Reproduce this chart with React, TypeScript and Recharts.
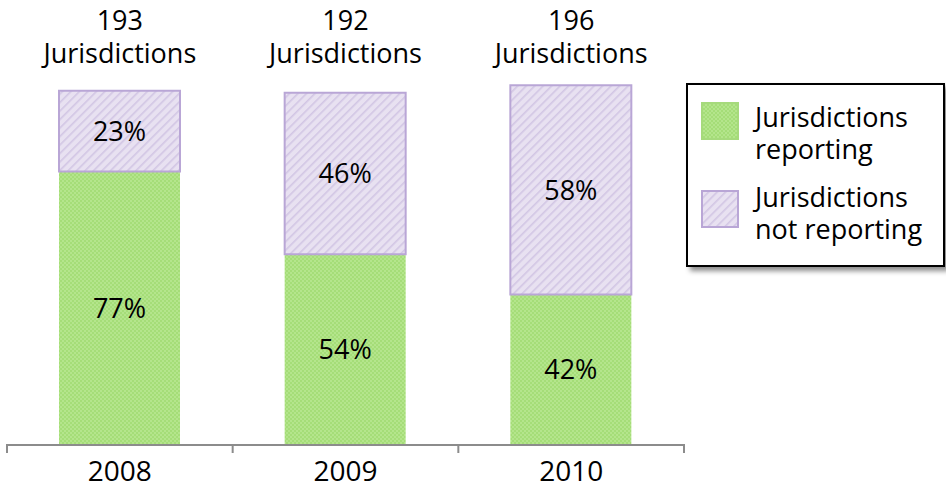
import React from 'react';
import { BarChart, Bar, XAxis, YAxis, LabelList } from 'recharts';

const years = ['2008', '2009', '2010'];
const totals = [193, 192, 196];
const reportingPct = [77, 54, 42];
const notReportingPct = [23, 46, 58];
// jurisdiction counts (bar heights follow the totals)
const reporting = [149, 104, 82];
const notReporting = [44, 88, 114];

const data = years.map((year, i) => ({
  year,
  total: totals[i],
  reporting: reporting[i],
  notReporting: notReporting[i],
  reportingPct: reportingPct[i],
  notReportingPct: notReportingPct[i],
}));

const FONT = '"Open Sans", sans-serif';
const CHART_W = 946;
const MARGIN = { top: 0, right: 262, bottom: 0, left: 7 };
const BAND = (CHART_W - MARGIN.left - MARGIN.right) / years.length;
const AXIS_GRAY = '#8c8c8c';

// category labels plus tick marks on the band boundaries
const BottomTick = (props: any) => {
  const { x, y, payload, index } = props;
  const axisY = y - 2;
  const left = x - BAND / 2;
  const right = x + BAND / 2;
  return (
    <g>
      <line x1={left} y1={axisY - 1} x2={left} y2={axisY + 8} stroke={AXIS_GRAY} strokeWidth={2} />
      {index === years.length - 1 && (
        <line x1={right} y1={axisY - 1} x2={right} y2={axisY + 8} stroke={AXIS_GRAY} strokeWidth={2} />
      )}
      <text x={x} y={481} textAnchor="middle" fontSize={28} fontFamily={FONT} fill="#000">
        {payload.value}
      </text>
    </g>
  );
};

const TopTick = (props: any) => {
  const { x, index } = props;
  return (
    <g>
      <text x={x} y={30} textAnchor="middle" fontSize={27} fontFamily={FONT} fill="#000">
        {totals[index]}
      </text>
      <text x={x} y={63} textAnchor="middle" fontSize={27} fontFamily={FONT} fill="#000">
        Jurisdictions
      </text>
    </g>
  );
};

const swatch = (fill: string, stroke: string) => (
  <svg width={38} height={38} style={{ display: 'block' }}>
    <rect x={1} y={1} width={36} height={36} fill={fill} stroke={stroke} strokeWidth={2} />
  </svg>
);

const LegendBox = () => (
  <div
    style={{
      position: 'absolute',
      left: 686,
      top: 83,
      width: 259,
      height: 184,
      border: '2px solid #000',
      background: '#fff',
      boxShadow: '4px 4px 5px rgba(0,0,0,0.45)',
      fontFamily: FONT,
      fontSize: 27,
      lineHeight: '32px',
      boxSizing: 'border-box',
    }}
  >
    <div style={{ position: 'absolute', left: 13, top: 17 }}>{swatch('url(#greenPat)', '#a6da7c')}</div>
    <div style={{ position: 'absolute', left: 67, top: 16 }}>
      Jurisdictions
      <br />
      reporting
    </div>
    <div style={{ position: 'absolute', left: 13, top: 105 }}>{swatch('url(#purplePat)', '#b9a6d6')}</div>
    <div style={{ position: 'absolute', left: 67, top: 96 }}>
      Jurisdictions
      <br />
      not reporting
    </div>
  </div>
);

export default function App() {
  return (
    <div style={{ position: 'absolute', left: 0, top: 0, width: 946, height: 486 }}>
      <svg width={0} height={0} style={{ position: 'absolute' }}>
        <defs>
          <pattern id="greenPat" width="4" height="4" patternUnits="userSpaceOnUse">
            <rect width="4" height="4" fill="#b4e58c" />
            <rect width="2" height="2" fill="#a5dd78" />
            <rect x="2" y="2" width="2" height="2" fill="#a5dd78" />
          </pattern>
          <pattern id="purplePat" width="6" height="6" patternUnits="userSpaceOnUse" patternTransform="rotate(45)">
            <rect width="6" height="6" fill="#e8e1f1" />
            <rect width="1.6" height="6" fill="#d2c6e4" />
          </pattern>
        </defs>
      </svg>
      <BarChart width={CHART_W} height={486} data={data} margin={MARGIN} barSize={121}>
        <XAxis
          dataKey="year"
          xAxisId="bottom"
          height={41}
          axisLine={{ stroke: AXIS_GRAY, strokeWidth: 2 }}
          tickLine={false}
          tickSize={0}
          tickMargin={2}
          tick={<BottomTick />}
          interval={0}
        />
        <XAxis
          dataKey="year"
          xAxisId="top"
          orientation="top"
          height={78}
          axisLine={false}
          tickLine={false}
          tick={<TopTick />}
          interval={0}
        />
        <YAxis hide domain={[0, 200]} />
        <Bar dataKey="reporting" stackId="a" xAxisId="bottom" fill="url(#greenPat)" isAnimationActive={false}>
          <LabelList
            dataKey="reportingPct"
            position="center"
            formatter={(v: any) => v + '%'}
            style={{ fontSize: 27, fontFamily: FONT, fill: '#000' }}
          />
        </Bar>
        <Bar
          dataKey="notReporting"
          stackId="a"
          xAxisId="bottom"
          fill="url(#purplePat)"
          stroke="#b9a6d6"
          strokeWidth={2}
          isAnimationActive={false}
        >
          <LabelList
            dataKey="notReportingPct"
            position="center"
            formatter={(v: any) => v + '%'}
            style={{ fontSize: 27, fontFamily: FONT, fill: '#000' }}
          />
        </Bar>
      </BarChart>
      <LegendBox />
    </div>
  );
}
